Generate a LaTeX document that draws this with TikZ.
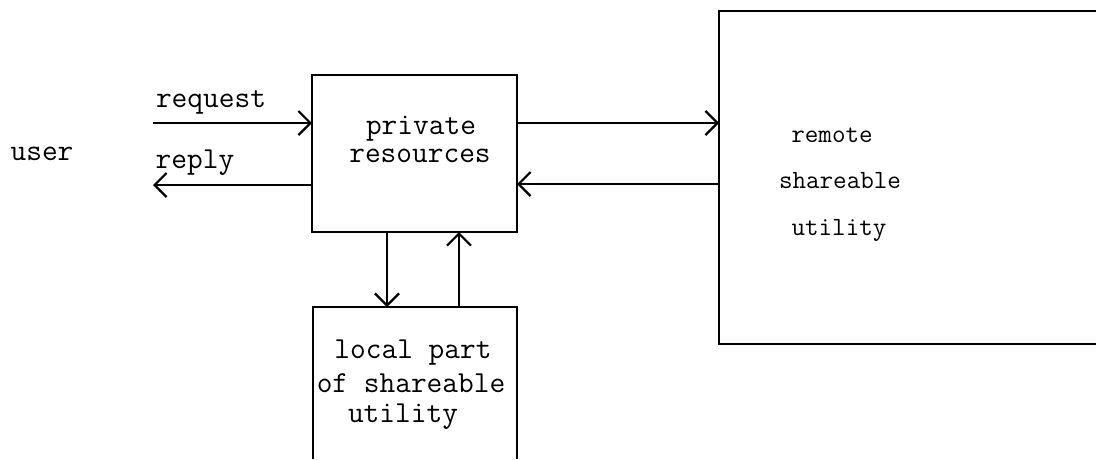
\documentclass[tikz,border=0pt]{standalone}
\usetikzlibrary{arrows.meta}
\begin{document}
\begin{tikzpicture}[x=1pt,y=-1pt,
  line width=2.2pt,
  boxshape/.style={draw=none,rectangle,inner sep=0pt,outer sep=0pt},
  flow/.style={-{Straight Barb[length=12pt,width=24pt]}},
  lbl/.style={anchor=base,inner sep=0pt,font=\ttfamily\fontsize{30.5}{32}\selectfont},
  rlbl/.style={anchor=base,inner sep=0pt,font=\ttfamily\fontsize{26.3}{28}\selectfont}]
\useasboundingbox (0,0) rectangle (1096,459);
% boxes
\node[boxshape,draw,minimum width=205pt,minimum height=157pt] (priv) at (414.5,153.5) {};
\node[boxshape,minimum width=204pt,minimum height=152pt] (local) at (415,383) {};
\node[boxshape,minimum width=377pt,minimum height=333pt] (remote) at (907.5,177.5) {};
\draw (local.south west) -- (local.north west) -- (local.north east) -- (local.south east);
\draw (remote.north east) -- (remote.north west) -- (remote.south west) -- (remote.south east);
% free ends
\coordinate (reqstart) at (153,123);
\coordinate (repend) at (153,185);
% connectors
\draw[flow] (reqstart) -- (reqstart -| priv.west);
\draw[flow] (repend -| priv.west) -- (repend);
\draw[flow] (priv.east |- 0,123) -- (remote.west |- 0,123);
\draw[flow] (remote.west |- 0,184) -- (priv.east |- 0,184);
\draw[flow] (387,232) -- (387,307);
\draw[flow] (459,307) -- (459,232);
% texts
\node[lbl] (user) at (42,160) {user};
\node[lbl] (request) at (211,107) {request};
\node[lbl] (reply) at (195,168) {reply};
\node[lbl] (t1) at (421,134) {private};
\node[lbl] (t2) at (420,162) {resources};
\node[lbl] (t3) at (413,358) {local part};
\node[lbl] (t4) at (411,392) {of shareable};
\node[lbl] (t5) at (403,422) {utility};
\node[rlbl] (t6) at (832,142) {remote};
\node[rlbl] (t7) at (840,188) {shareable};
\node[rlbl] (t8) at (839,235) {utility};
\end{tikzpicture}
\end{document}
